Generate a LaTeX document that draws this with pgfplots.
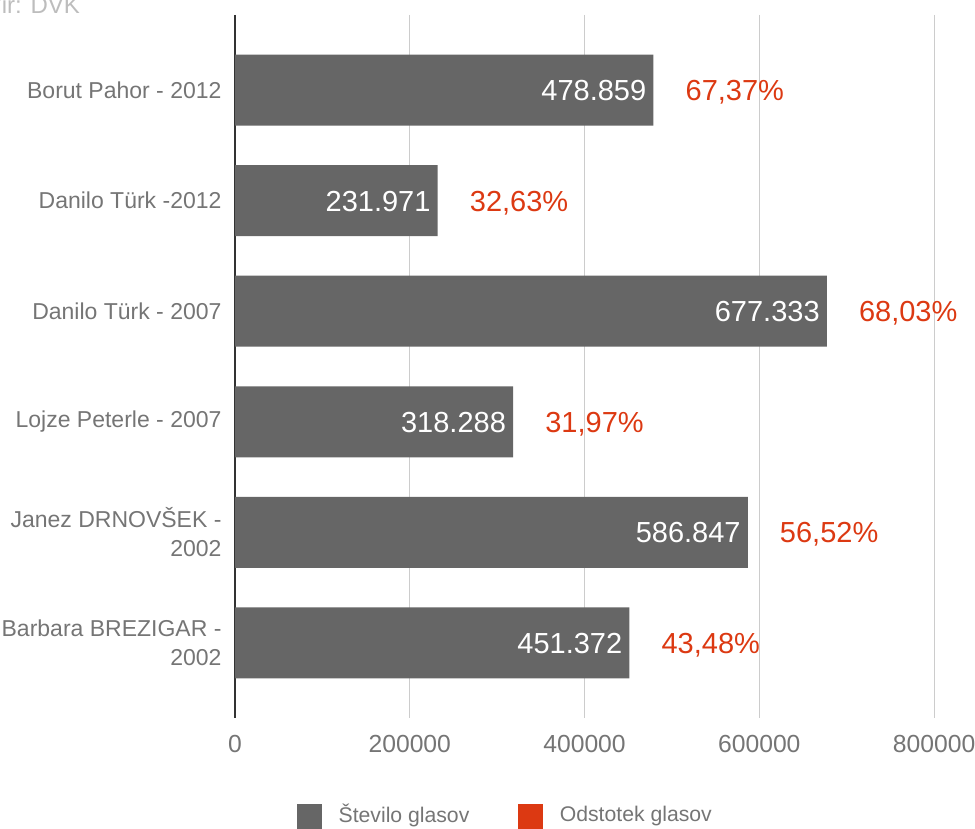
\documentclass[border=0pt]{standalone}
\usepackage{pgfplots}
\pgfplotsset{compat=1.18}
\usepackage{pgfplotstable}
\usepackage{fontspec}
\setmainfont{Liberation Sans}
\definecolor{bargray}{HTML}{666666}
\definecolor{labgray}{HTML}{757575}
\definecolor{gridgray}{HTML}{CCCCCC}
\definecolor{axisdark}{HTML}{333333}
\definecolor{pctred}{HTML}{DC3912}
\definecolor{srcgray}{HTML}{BDBDBD}

\pgfplotstableread{
idx votes pct
0 478859 67.37
1 231971 32.63
2 677333 68.03
3 318288 31.97
4 586847 56.52
5 451372 43.48
}\datatable

\begin{document}
\begin{tikzpicture}
\path[use as bounding box] (0,0) rectangle (975bp,829bp);
\clip (0,0) rectangle (975bp,829bp);
\begin{axis}[
  at={(235bp,111bp)}, anchor=south west,
  scale only axis, width=734bp, height=703bp,
  xmin=0, xmax=840000, ymin=-0.68, ymax=5.68,
  enlargelimits=false,
  scaled x ticks=false,
  y dir=reverse,
  axis line style={draw=none},
  major tick length=0pt,
  xtick={200000,400000,600000,800000},
  xticklabels={200000,400000,600000,800000},
  extra x ticks={0}, extra x tick labels={0},
  extra x tick style={xmajorgrids=true, major grid style={draw=axisdark, line width=1.4bp}},
  xmajorgrids=true, ymajorgrids=false,
  major grid style={draw=gridgray, line width=1bp},
  ytick={0,1,2,3,4,5},
  yticklabels={Borut Pahor - 2012, Danilo Türk -2012, Danilo Türk - 2007, Lojze Peterle - 2007, {Janez DRNOVŠEK -\\2002}, {Barbara BREZIGAR -\\2002}},
  tick label style={text=labgray},
  xticklabel style={font=\fontsize{24.7bp}{29bp}\selectfont, yshift=-14bp},
  yticklabel style={font=\fontsize{23bp}{29bp}\selectfont, align=right, xshift=-10bp},
  /pgf/number format/assume math mode=true,
  legend columns=2,
  legend cell align=left,
  legend style={at={(0.0845,-0.1223)}, anchor=north west, draw=none, fill=none, inner sep=0pt,
    font=\fontsize{21.2bp}{25bp}\selectfont, text=labgray,
    nodes={inner sep=0pt},
    /tikz/every odd column/.append style={column sep=17bp},
    /tikz/every even column/.append style={column sep=49bp}},
]
\addplot[xbar, bar width=71bp, fill=bargray, draw=none, forget plot,
  nodes near coords, point meta=x,
  nodes near coords style={anchor=base east, inner sep=0pt, xshift=-7bp, yshift=-10.4bp,
    text=white, font=\fontsize{29bp}{34bp}\selectfont,
    /pgf/number format/.cd, fixed, precision=0, 1000 sep={.}, assume math mode=true}]
  table[x=votes, y=idx] {\datatable};
\addplot[draw=none, mark=none, forget plot,
  nodes near coords={\pgfmathprintnumber{\pgfplotspointmeta}\%}, point meta=explicit,
  nodes near coords style={anchor=base west, inner sep=0pt, xshift=32bp, yshift=-10.4bp,
    text=pctred, font=\fontsize{29bp}{34bp}\selectfont,
    /pgf/number format/.cd, fixed, fixed zerofill, precision=2, use comma, assume math mode=true}]
  table[x=votes, y=idx, meta=pct] {\datatable};
\addlegendimage{legend image code/.code={\fill[bargray] (0bp,-14bp) rectangle (24bp,10bp);}}
\addlegendentry{Število glasov}
\addlegendimage{legend image code/.code={\fill[pctred] (0bp,-14bp) rectangle (24bp,10bp);}}
\addlegendentry{Odstotek glasov}
\end{axis}
\node[anchor=base west, inner sep=0pt, text=srcgray, font=\fontsize{24bp}{28bp}\selectfont] at (-14bp,815.7bp) {Vir: DVK};
\end{tikzpicture}
\end{document}
